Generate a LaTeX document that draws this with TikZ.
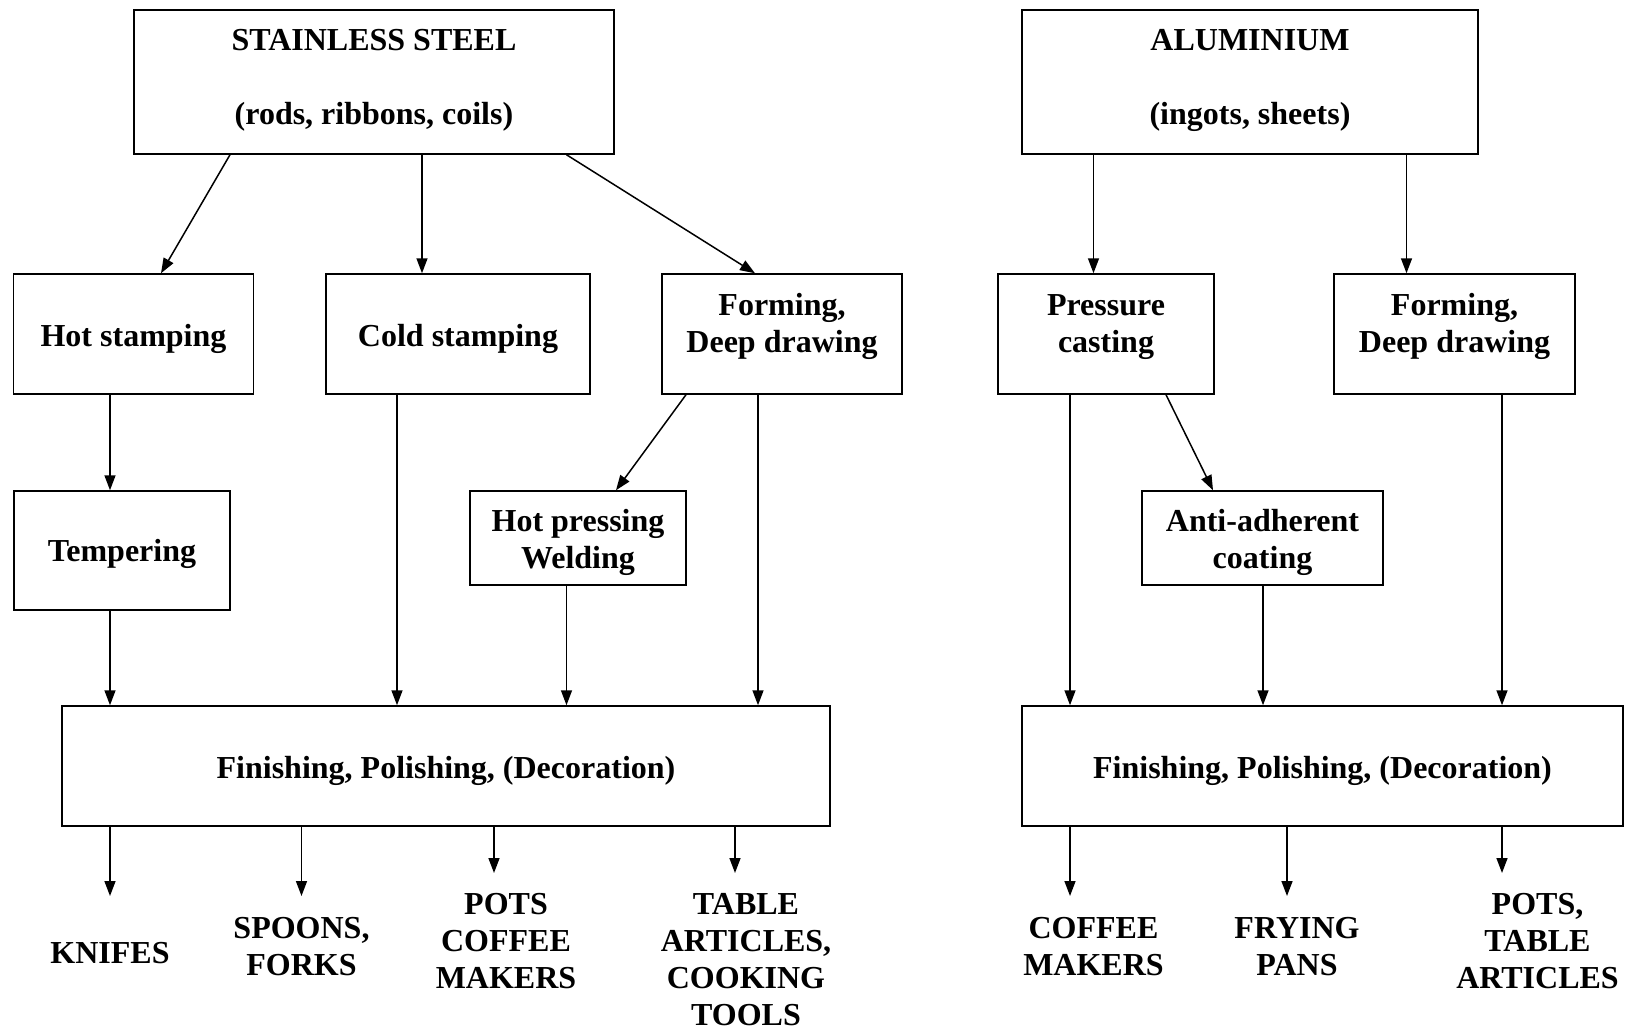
\documentclass[tikz,border=0pt]{standalone}
\usepackage{fontspec}
\setmainfont{Liberation Serif}
\usetikzlibrary{arrows.meta}
\begin{document}
\begin{tikzpicture}[x=1pt,y=-1pt,
  every node/.style={font=\fontsize{32}{37}\selectfont\bfseries, align=center, inner sep=0pt},
  box/.style 2 args={draw, line width=1.5pt, minimum width=#1pt, minimum height=#2pt},
  arr/.style={line width=1.5pt, -{Triangle[length=15pt,width=11pt]}}]
\useasboundingbox (0,0) rectangle (1630,1030);

% Stainless steel branch
\node[box={480}{144}, label={[name=sstxt, yshift=1.5pt]center:{STAINLESS STEEL\\[37pt](rods, ribbons, coils)}}] (ss) at (374,82) {};
\node[box={240}{120}, label={[name=hottxt, yshift=-5pt]center:{Hot stamping}}] (hot) at (133.5,334) {};
\node[box={264}{120}, label={[name=coldtxt, yshift=-5pt]center:{Cold stamping}}] (cold) at (458,334) {};
\node[box={240}{120}, label={[name=form1txt, yshift=8pt]center:{Forming,\\Deep drawing}}] (form1) at (782,334) {};
\node[box={216}{119}, label={[name=temptxt, yshift=-3pt]center:{Tempering}}] (temp) at (122,550.5) {};
\node[box={216}{94}, label={[name=hpwtxt, yshift=-4pt]center:{Hot pressing\\Welding}}] (hpw) at (578,538) {};
\node[box={768}{120}, label={[name=fin1txt, yshift=-5pt]center:{Finishing, Polishing, (Decoration)}}] (fin1) at (446,766) {};

% Aluminium branch
\node[box={456}{144}, label={[name=altxt, yshift=1.5pt]center:{ALUMINIUM\\[37pt](ingots, sheets)}}] (al) at (1250,82) {};
\node[box={216}{120}, label={[name=presstxt, yshift=7pt]center:{Pressure\\casting}}] (press) at (1106,334) {};
\node[box={241}{120}, label={[name=form2txt, yshift=8pt]center:{Forming,\\Deep drawing}}] (form2) at (1454.5,334) {};
\node[box={241}{94}, label={[name=antitxt, yshift=-4pt]center:{Anti-adherent\\coating}}] (anti) at (1262.5,538) {};
\node[box={601}{120}, label={[name=fin2txt, yshift=-5pt]center:{Finishing, Polishing, (Decoration)}}] (fin2) at (1322.5,766) {};

% Products
\node (knifes) at (110,953) {KNIFES};
\node (spoons) at (301.5,946.5) {SPOONS,\\FORKS};
\node (pots1) at (506,940.7) {POTS\\COFFEE\\MAKERS};
\node (table1) at (746,959.4) {TABLE\\ARTICLES,\\COOKING\\TOOLS};
\node (coffee) at (1093.5,946.5) {COFFEE\\MAKERS};
\node (frying) at (1297,946.5) {FRYING\\PANS};
\node (pots2) at (1537.5,940.7) {POTS,\\TABLE\\ARTICLES};

\coordinate (o1) at (110,896);
\coordinate (o2) at (301.5,896);
\coordinate (o3) at (494,873);
\coordinate (o4) at (735,873);
\coordinate (o5) at (1070,896);
\coordinate (o6) at (1287,896);
\coordinate (o7) at (1502,873);

% Connectors: stainless steel
\draw[arr] (ss.south -| 230,0) -- (hot.north -| 161,0);
\draw[arr] (ss.south -| 422,0) -- (cold.north -| 422,0);
\draw[arr] (ss.south -| 566.5,0) -- (form1.north -| 755,0);
\draw[arr] (hot.south -| 110,0) -- (temp.north -| 110,0);
\draw[arr] (temp.south -| 110,0) -- (fin1.north -| 110,0);
\draw[arr] (cold.south -| 397,0) -- (fin1.north -| 397,0);
\draw[arr] (form1.south -| 686,0) -- (hpw.north -| 616,0);
\draw[arr] (form1.south -| 758,0) -- (fin1.north -| 758,0);
\draw[arr] (hpw.south -| 566.5,0) -- (fin1.north -| 566.5,0);

% Connectors: aluminium
\draw[arr] (al.south -| 1093.5,0) -- (press.north -| 1093.5,0);
\draw[arr] (al.south -| 1406.5,0) -- (form2.north -| 1406.5,0);
\draw[arr] (press.south -| 1070,0) -- (fin2.north -| 1070,0);
\draw[arr] (press.south -| 1166,0) -- (anti.north -| 1213,0);
\draw[arr] (anti.south -| 1263,0) -- (fin2.north -| 1263,0);
\draw[arr] (form2.south -| 1502,0) -- (fin2.north -| 1502,0);

% Outputs
\draw[arr] (fin1.south -| o1) -- (o1);
\draw[arr] (fin1.south -| o2) -- (o2);
\draw[arr] (fin1.south -| o3) -- (o3);
\draw[arr] (fin1.south -| o4) -- (o4);
\draw[arr] (fin2.south -| o5) -- (o5);
\draw[arr] (fin2.south -| o6) -- (o6);
\draw[arr] (fin2.south -| o7) -- (o7);
\end{tikzpicture}
\end{document}
